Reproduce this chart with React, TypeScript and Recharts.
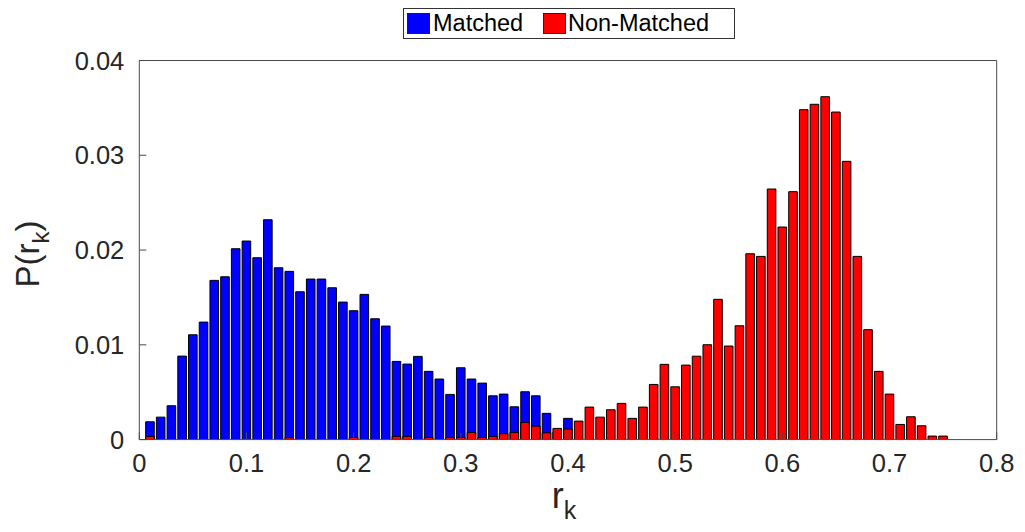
import React from 'react';
import { ComposedChart, Bar, XAxis, YAxis } from 'recharts';

const bins = [0.01, 0.02, 0.03, 0.04, 0.05, 0.06, 0.07, 0.08, 0.09, 0.1, 0.11, 0.12, 0.13, 0.14, 0.15, 0.16, 0.17, 0.18, 0.19, 0.2, 0.21, 0.22, 0.23, 0.24, 0.25, 0.26, 0.27, 0.28, 0.29, 0.3, 0.31, 0.32, 0.33, 0.34, 0.35, 0.36, 0.37, 0.38, 0.39, 0.4, 0.41, 0.42, 0.43, 0.44, 0.45, 0.46, 0.47, 0.48, 0.49, 0.5, 0.51, 0.52, 0.53, 0.54, 0.55, 0.56, 0.57, 0.58, 0.59, 0.6, 0.61, 0.62, 0.63, 0.64, 0.65, 0.66, 0.67, 0.68, 0.69, 0.7, 0.71, 0.72, 0.73, 0.74, 0.75];

const matched = [0.00188, 0.00237, 0.00357, 0.00881, 0.01106, 0.0124, 0.0168, 0.01718, 0.02014, 0.02095, 0.01919, 0.0232, 0.01813, 0.01775, 0.0156, 0.01694, 0.01694, 0.01602, 0.01451, 0.0136, 0.01532, 0.01275, 0.01198, 0.00825, 0.00797, 0.00878, 0.0072, 0.00639, 0.00477, 0.00758, 0.00639, 0.00596, 0.00462, 0.0048, 0.00346, 0.00505, 0.00462, 0.00277, 0.0008, 0.00224, 0, 0, 0, 0, 0, 0, 0, 0, 0, 0, 0, 0, 0, 0, 0, 0, 0, 0, 0, 0, 0, 0, 0, 0, 0, 0, 0, 0, 0, 0, 0, 0, 0, 0, 0];

const nonMatched = [0.00034, 0, 0, 0, 0, 0, 0, 0, 0, 0, 0, 0, 0, 0.0002, 0, 0, 0, 0, 0, 0.00023, 0, 0, 0, 0.00034, 0.00034, 0, 0.00023, 0, 0.00023, 0.00023, 0.00076, 0.00023, 0.00034, 0.00062, 0.00076, 0.00181, 0.00142, 0.00072, 0.00118, 0.00111, 0.00195, 0.00343, 0.00237, 0.00315, 0.00382, 0.00224, 0.00343, 0.00582, 0.00794, 0.00557, 0.00786, 0.0088, 0.01001, 0.0148, 0.00987, 0.01201, 0.01961, 0.01933, 0.02644, 0.02243, 0.02616, 0.03481, 0.03538, 0.03618, 0.03456, 0.02936, 0.01933, 0.0116, 0.0072, 0.0048, 0.0016, 0.00241, 0.00146, 0.00037, 0.00037];

const xTicks = [0, 0.1, 0.2, 0.3, 0.4, 0.5, 0.6, 0.7, 0.8];
const yTicks = [0, 0.01, 0.02, 0.03, 0.04];

const seriesNames = ['Matched', 'Non-Matched'];
const seriesColors = ['#0000ff', '#ff0000'];

const data = bins.map((b, i) => ({ r: b, matched: matched[i], nonMatched: nonMatched[i] }));

const FONT = '"Liberation Sans", Arial, Helvetica, sans-serif';
const AXIS_COLOR = '#4a4a4a';
const TEXT_COLOR = '#262626';

const tickStyle = { fontSize: 25.5, fill: TEXT_COLOR, fontFamily: FONT };

const XLabel = (props: any) => {
  const vb = props.viewBox || {};
  const cx = vb.x + vb.width / 2;
  const y = vb.y + 68;
  return (
    <text x={cx - 4} y={y} fontFamily={FONT} fill={TEXT_COLOR} fontSize={36} textAnchor="middle">
      r<tspan fontSize={25} dy={11}>k</tspan>
    </text>
  );
};

const YLabel = (props: any) => {
  const vb = props.viewBox || {};
  const cy = vb.y + vb.height / 2 + 4;
  const bx = 31;
  return (
    <text
      x={0}
      y={0}
      transform={`translate(${bx},${cy}) rotate(-90)`}
      fontFamily={FONT}
      fill={TEXT_COLOR}
      fontSize={33}
      textAnchor="middle"
    >
      P(r<tspan fontSize={24} dy={10}>k</tspan><tspan dy={-10}>)</tspan>
    </text>
  );
};

const Legend = () => (
  <div
    style={{
      position: 'absolute',
      left: 395,
      top: 0,
      width: 332,
      height: 31,
      boxSizing: 'border-box',
      border: '1px solid #333',
      background: '#fff',
      fontFamily: FONT,
      fontSize: 23.5,
      color: '#000',
    }}
  >
    <div style={{ position: 'absolute', left: 3, top: 4, width: 23, height: 21, background: seriesColors[0], border: '1px solid #222', boxSizing: 'border-box' }} />
    <div style={{ position: 'absolute', left: 29, top: 1, lineHeight: '27px', whiteSpace: 'nowrap' }}>{seriesNames[0]}</div>
    <div style={{ position: 'absolute', left: 139, top: 4, width: 23, height: 21, background: seriesColors[1], border: '1px solid #222', boxSizing: 'border-box' }} />
    <div style={{ position: 'absolute', left: 164, top: 1, lineHeight: '27px', whiteSpace: 'nowrap' }}>{seriesNames[1]}</div>
  </div>
);

export default function App() {
  return (
    <div style={{ position: 'relative', width: 1010, height: 520, background: '#fff' }}>
      <ComposedChart
        width={1010}
        height={520}
        data={data}
        margin={{ top: 51.5, right: 20.3, left: 0, bottom: 48.4 }}
      >
        <XAxis
          xAxisId="bottom"
          dataKey="r"
          type="number"
          domain={[0, 0.8]}
          ticks={xTicks}
          orientation="bottom"
          height={40}
          stroke={AXIS_COLOR}
          tickSize={-7}
          tickMargin={21}
          tick={tickStyle}
          allowDataOverflow
          label={<XLabel />}
        />
        <XAxis
          xAxisId="top"
          dataKey="r"
          type="number"
          domain={[0, 0.8]}
          ticks={xTicks}
          orientation="top"
          height={1}
          stroke={AXIS_COLOR}
          tickSize={-7}
          tick={false}
          allowDataOverflow
        />
        <YAxis
          yAxisId="left"
          type="number"
          domain={[0, 0.04]}
          ticks={yTicks}
          orientation="left"
          width={131.3}
          stroke={AXIS_COLOR}
          tickSize={-7}
          tickMargin={22}
          tick={tickStyle}
          allowDataOverflow
          label={<YLabel />}
        />
        <YAxis
          yAxisId="right"
          type="number"
          domain={[0, 0.04]}
          ticks={yTicks}
          orientation="right"
          width={1}
          stroke={AXIS_COLOR}
          tickSize={-7}
          tick={false}
          allowDataOverflow
        />
        <Bar
          xAxisId="bottom"
          yAxisId="left"
          dataKey="matched"
          name={seriesNames[0]}
          fill={seriesColors[0]}
          stroke="#000"
          strokeWidth={1}
          barSize={8.6}
          isAnimationActive={false}
        />
        <Bar
          xAxisId="top"
          yAxisId="right"
          dataKey="nonMatched"
          name={seriesNames[1]}
          fill={seriesColors[1]}
          stroke="#000"
          strokeWidth={1}
          barSize={8.6}
          isAnimationActive={false}
        />
      </ComposedChart>
      <Legend />
    </div>
  );
}
